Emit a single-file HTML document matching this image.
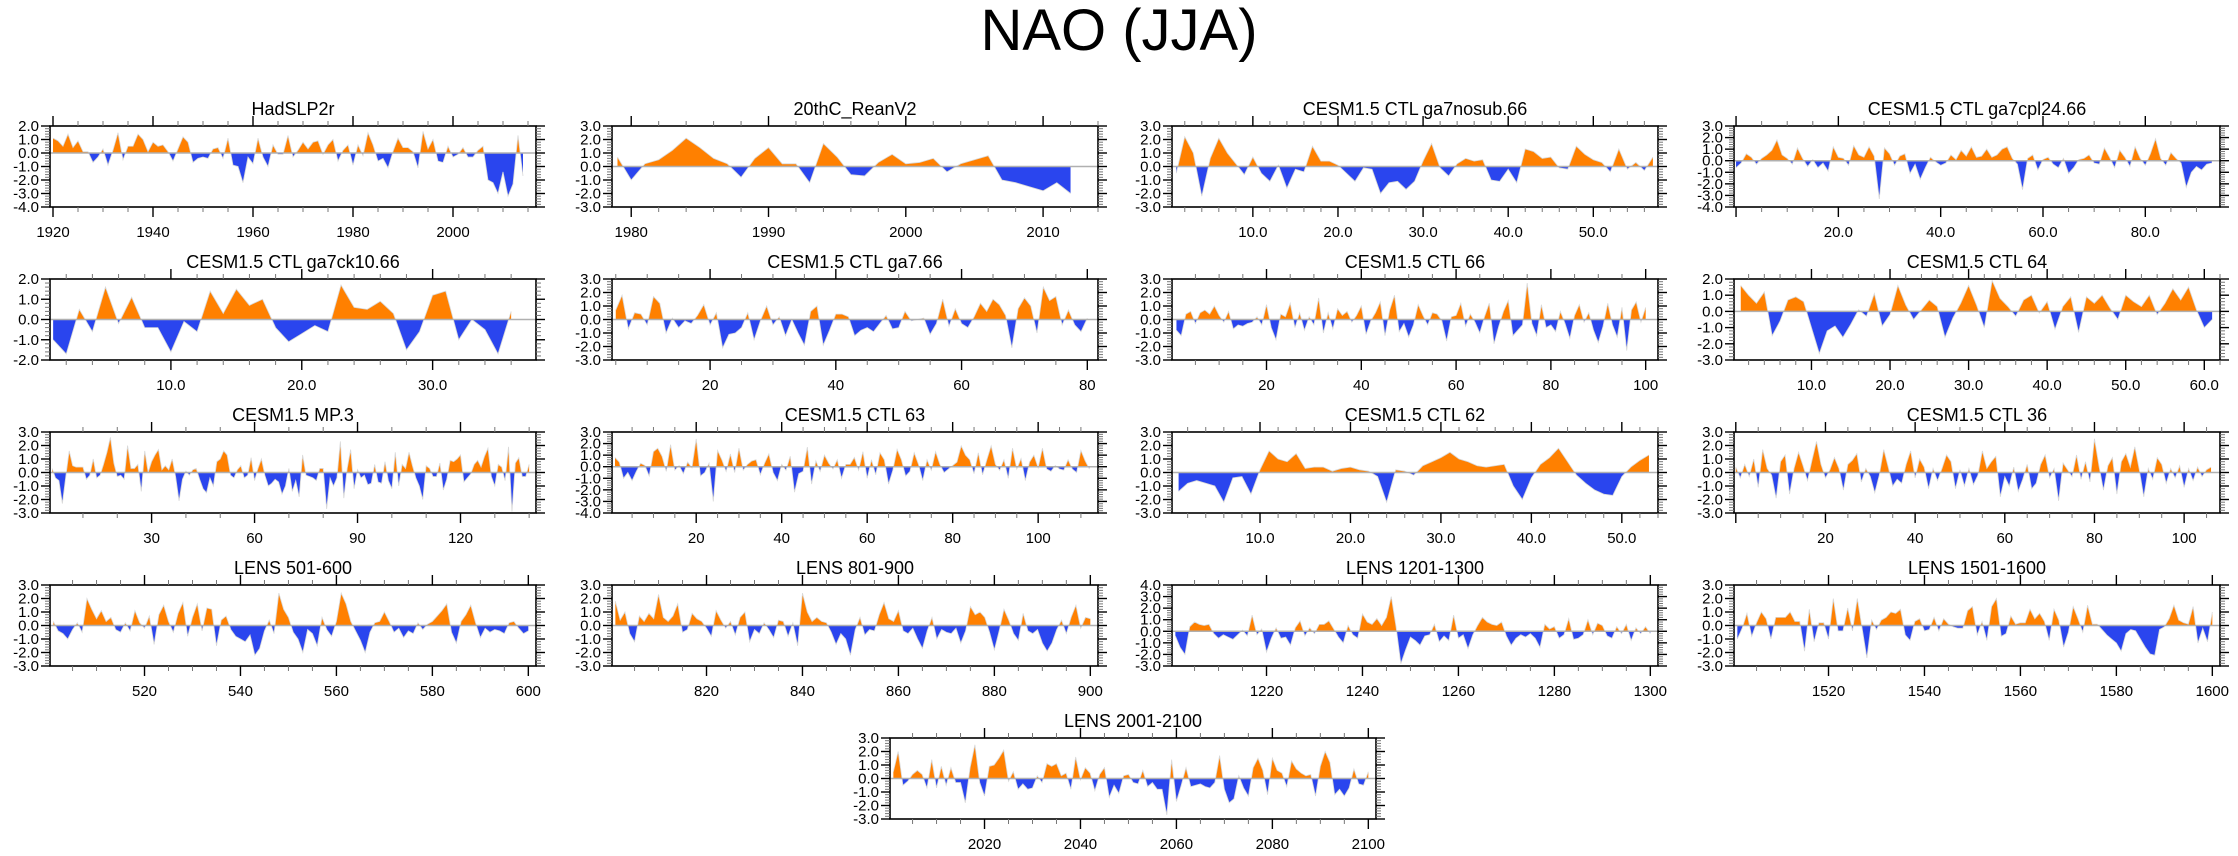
<!DOCTYPE html>
<html><head><meta charset="utf-8"><title>NAO (JJA)</title>
<style>
html,body{margin:0;padding:0;background:#fff;}
svg{display:block;font-family:"Liberation Sans",Arial,sans-serif;}
</style></head>
<body>
<svg id="chart" width="2238" height="856" viewBox="0 0 2238 856" xmlns="http://www.w3.org/2000/svg">
<rect x="0" y="0" width="2238" height="856" fill="#fff"/>
<text x="1119" y="50" font-size="58" text-anchor="middle" fill="#000">NAO (JJA)</text>
</svg>
<script>
// ---- data arrays (NAO index values per panel) ----
const titles = ["HadSLP2r","20thC_ReanV2","CESM1.5 CTL ga7nosub.66","CESM1.5 CTL ga7cpl24.66","CESM1.5 CTL ga7ck10.66","CESM1.5 CTL ga7.66","CESM1.5 CTL 66","CESM1.5 CTL 64","CESM1.5 MP.3","CESM1.5 CTL 63","CESM1.5 CTL 62","CESM1.5 CTL 36","LENS 501-600","LENS 801-900","LENS 1201-1300","LENS 1501-1600","LENS 2001-2100"];
const firstX = [1920,1979,1,0,1,5,1,1,1,1,1,0,501,801,1201,1501,2001];
const xMin = [1919.4,1978.6,0.5,-0.4,0.76,4.4,0.06,0.14,0.4,0.3,0.27,-0.4,500.3,800.3,1200.3,1500.3,2000.3];
const xMax = [2016.6,2014,57.6,94.6,37.9,81.7,102.6,62,142,114,54,108,601.6,901.6,1301.6,1601.6,2101.6];
const yMin = [-4,-3,-3,-4,-2,-3,-3,-3,-3,-4,-3,-3,-3,-3,-3,-3,-3];
const yMax = [2,3,3,3,2,3,3,2,3,3,3,3,3,3,4,3,3];
const xMajor = [20,10,10,20,10,20,20,10,30,20,10,20,20,20,20,20,20];
const xMinor = [5,2,2,5,2,5,5,2,10,5,2,5,5,5,5,5,5];
const xDecimals = [0,0,1,1,1,0,0,1,0,0,1,0,0,0,0,0,0];

const sHad = [1.1,0.9,0.5,1.4,0.4,0.9,0.1,0.1,-0.7,-0.3,0.3,-0.9,0.2,1.5,-0.5,0.5,0.5,1.4,1.0,0.1,0.8,0.5,0.6,0.1,-0.6,0.3,1.2,0.8,-0.7,-0.4,-0.3,-0.4,0.3,0.4,-0.4,1.1,-0.9,-1.0,-2.2,-0.3,-0.8,1.1,-0.3,-1.0,0.6,-0.1,-0.1,1.3,-0.3,0.2,0.8,0.3,0.8,0.9,-0.1,0.6,1.0,-0.6,0.2,0.6,-0.9,0.6,-0.2,1.5,0.6,-0.6,-0.4,-1.1,0.1,1.1,0.4,0.4,0.1,-1.1,1.6,0.3,1.0,-0.6,-0.7,0.5,-0.3,-0.1,0.4,-0.3,-0.3,0.2,0.5,-2.0,-2.2,-3.0,-1.4,-3.2,-2.3,1.3,-1.7];
const s20c = [0.7,-1.0,0.2,0.5,1.2,2.1,1.4,0.6,0.2,-0.8,0.6,1.4,0.2,0.2,-1.2,1.7,0.7,-0.6,-0.7,0.3,0.9,0.2,0.3,0.6,-0.4,0.2,0.5,0.8,-1.0,-1.2,-1.5,-1.8,-1.2,-2.0];
const sNosub = [-0.5,2.2,1.0,-2.2,0.6,2.1,1.0,0.2,-0.6,0.7,-0.5,-1.1,0.1,-1.6,-0.2,-0.4,1.5,0.4,0.4,0.1,-0.5,-1.1,-0.1,-0.2,-2.0,-1.2,-1.1,-1.7,-1.1,0.4,1.7,-0.1,-0.7,0.2,0.6,0.4,0.5,-1.0,-1.1,-0.2,-1.2,1.3,1.1,0.6,0.7,-0.1,-0.2,1.5,0.9,0.5,0.3,-0.4,1.3,-0.2,0.3,-0.3,0.7];
const sCpl24 = [-0.6,-0.2,0.6,0.3,-0.3,0.2,0.5,0.9,1.8,0.5,0.2,-0.3,1.1,0.2,-0.5,0.1,-0.6,-0.2,-0.9,1.2,0.3,0.2,-0.4,1.3,0.5,0.3,1.2,0.4,-3.3,1.1,0.6,-0.4,0.4,0.6,-1.1,-0.3,-1.6,-0.6,0.3,-0.1,-0.4,-0.2,0.5,0.1,0.9,0.4,1.2,0.3,0.4,1.0,0.3,0.5,1.0,1.2,0.2,-0.3,-2.5,0.2,0.5,-0.8,0.1,0.3,-0.3,-0.6,0.2,-1.1,-0.6,0.1,0.2,0.5,-0.2,-0.3,1.1,0.3,-0.6,0.9,0.3,-0.5,1.2,0.2,-0.4,0.6,1.9,0.2,-0.4,0.7,0.2,-0.2,-2.3,-1.0,-0.5,-0.8,-0.3,-0.2];
const sCk10 = [-1.0,-1.7,0.5,-0.6,1.6,-0.2,1.1,-0.4,-0.4,-1.6,-0.1,-0.6,1.4,0.3,1.5,0.7,1.0,-0.4,-1.1,-0.7,-0.3,-0.6,1.7,0.6,0.5,0.9,0.3,-1.5,-0.6,1.2,1.4,-1.0,0.0,-0.5,-1.7,0.4];
const sGa7 = [0.7,1.8,-0.7,0.5,0.4,-0.4,1.7,1.2,-1.0,0.1,-0.6,-0.1,-0.3,0.3,1.1,-0.4,0.5,-2.1,-1.1,-1.0,-0.6,0.5,-1.5,-0.1,1.0,-0.4,0.2,-1.2,0.0,-1.0,-1.9,0.6,1.0,-1.9,-0.8,0.4,0.4,0.2,-1.2,-0.8,-0.6,-0.9,-0.3,0.3,-0.7,-0.6,0.6,-0.1,0.0,0.1,-1.1,-0.3,1.5,-0.5,0.8,-0.3,-0.6,0.2,1.2,0.6,1.5,1.1,0.3,-2.1,0.8,1.6,1.0,-1.0,2.4,1.4,1.7,-0.4,0.7,-0.4,-0.9,0.1];
const s66 = [-0.8,-1.2,0.4,0.6,-0.3,0.5,0.7,0.4,1.0,0.3,-0.2,0.6,-0.7,-0.4,-0.5,-0.3,-0.2,0.2,-0.4,1.1,-0.6,-1.5,0.4,0.2,1.2,-0.6,0.5,-0.8,0.2,-0.4,1.6,-1.0,0.5,-0.7,0.8,0.3,0.6,-0.2,0.3,1.0,-1.1,-0.1,0.5,1.3,-1.2,0.7,1.8,-0.9,-0.3,-1.3,-0.4,1.1,0.3,-0.4,0.5,0.4,-0.1,-1.6,0.2,0.3,1.2,-0.5,0.4,-0.2,-1.0,0.2,1.2,-1.8,-0.5,0.6,1.4,-1.2,-0.8,-0.4,2.7,-0.3,-1.2,1.1,-0.6,-0.4,-0.9,0.6,-0.3,-1.4,0.3,1.1,-0.2,0.5,-0.8,-1.7,-0.5,1.2,-0.4,-1.3,0.9,-2.3,0.7,1.3,-0.2,0.9];
const s64 = [1.6,1.0,0.5,1.2,-1.5,-0.6,0.7,0.9,0.6,-1.0,-2.6,-1.2,-0.9,-1.6,-0.8,0.1,-0.3,1.1,-0.9,-0.2,1.6,0.4,-0.5,0.1,0.7,0.3,-1.6,-0.4,0.5,1.6,0.4,-1.0,1.9,0.8,0.3,-0.3,0.7,1.0,-0.1,0.6,-1.1,0.3,0.9,-1.3,0.9,0.5,1.0,0.2,-0.5,1.0,0.6,0.3,1.0,-0.2,0.5,1.4,0.7,1.5,0.1,-1.0,-0.5];
const sMp3 = [0.3,-0.4,-0.6,-2.3,-0.3,1.6,0.5,0.4,0.4,0.4,-0.5,-0.2,1.0,-0.4,-0.2,0.6,1.5,2.6,0.7,-0.3,-0.2,-0.5,2.0,0.3,0.3,0.6,-1.4,1.6,0.0,0.8,1.3,1.7,0.2,0.5,0.2,1.0,-0.3,-2.1,-0.5,0.1,-0.2,0.2,0.3,-0.5,-1.2,-1.5,-0.4,-1.0,0.8,1.0,1.6,1.3,-0.2,-0.4,0.2,0.5,-0.4,-0.2,1.1,-0.6,0.3,1.0,-0.2,-1.0,-0.8,-0.5,-0.7,-1.6,-1.0,0.3,-1.4,-0.6,-1.8,1.3,-0.2,-0.3,-0.4,-0.6,0.3,0.3,-2.7,-0.4,-1.0,-0.4,2.3,-1.9,0.3,1.7,-1.2,0.2,-0.4,-0.2,-0.9,-0.8,0.6,-0.7,-0.8,0.8,-0.6,-1.2,1.5,-1.0,0.6,0.3,1.5,0.5,-0.4,-1.0,-2.0,0.5,0.3,-0.3,-0.3,0.7,-1.3,-0.5,0.9,0.8,1.0,1.3,-0.7,-0.4,-0.1,0.6,0.9,0.4,1.2,1.8,-0.3,-1.0,0.6,0.4,-0.6,1.9,-2.9,0.7,1.1,-0.3,-0.3,0.6];
const s63 = [0.8,0.4,-1.0,-0.5,-1.2,-0.4,0.3,0.1,-0.8,1.3,1.6,0.9,-0.4,1.9,-0.3,0.1,-0.6,0.4,-0.1,2.4,-0.8,-0.5,0.3,-3.0,1.4,0.6,-0.4,1.1,-0.5,1.6,-0.3,0.2,0.5,0.6,-0.7,0.3,1.1,-0.5,-1.2,0.2,-0.3,0.9,-2.2,-0.6,-0.4,1.7,-1.5,0.5,-0.4,1.0,0.3,-0.2,0.6,-1.0,0.2,0.2,0.8,-0.3,1.3,-1.0,0.6,-0.7,1.2,0.6,-1.5,-0.3,1.5,0.6,-0.8,-0.4,1.2,0.2,-1.2,0.6,-0.3,1.3,0.2,-0.5,-0.2,0.1,0.4,1.8,1.0,0.6,-0.6,1.2,-0.7,0.6,1.8,0.2,-0.3,0.6,-1.0,1.6,-0.2,0.7,-1.2,0.4,1.0,-0.1,1.6,-0.2,-0.4,0.1,-0.2,-0.3,0.6,-0.2,-0.5,1.4,0.5,-0.2];
const s62 = [-1.4,-0.8,-0.6,-0.8,-1.0,-2.2,-0.4,-0.3,-1.6,0.2,1.6,1.0,0.8,1.4,0.3,0.4,0.4,0.1,0.3,0.4,0.2,0.1,-0.3,-2.2,0.2,0.1,-0.2,0.5,0.8,1.1,1.5,1.0,0.8,0.5,0.4,0.5,0.6,-1.0,-2.0,-0.4,0.6,1.1,1.8,0.8,-0.2,-0.8,-1.3,-1.6,-1.7,-0.3,0.4,0.9,1.3];
const s36 = [0.4,-0.4,0.6,-0.3,1.0,-1.1,1.7,0.3,-0.2,-1.9,0.8,1.3,-1.6,0.3,1.5,0.5,-0.6,0.9,2.3,0.6,-0.4,0.2,1.1,0.3,-1.3,0.6,0.9,1.4,-0.7,0.3,-0.3,-1.5,-0.2,1.7,0.4,-1.0,-0.5,-0.8,0.6,1.6,-0.4,1.0,0.4,-1.2,0.3,-0.6,0.3,1.3,0.8,-1.2,0.2,-1.0,0.3,-0.9,-0.2,1.6,0.3,0.8,1.2,-1.8,-0.3,-1.0,0.4,-1.4,-0.5,0.6,-1.2,-0.8,0.6,1.3,-0.4,0.3,-2.1,0.7,0.2,-0.3,1.3,-0.5,0.8,-0.7,2.5,0.5,-1.3,0.5,1.1,-1.6,0.8,1.4,0.4,1.9,0.2,-1.8,0.3,-0.5,1.1,0.6,-0.8,0.3,-0.4,0.5,-1.1,0.3,-0.6,0.4,-0.3,0.2,0.4];
const sL501 = [0.3,-0.4,-0.6,-1.0,-0.3,0.2,-0.5,2.0,1.2,0.5,1.1,0.3,0.6,-0.3,-0.5,0.2,-0.4,1.1,0.2,-0.2,0.7,-1.4,0.8,1.5,0.3,-0.5,0.9,1.7,-0.8,0.6,1.6,-0.4,1.3,1.2,-1.5,0.4,0.7,-0.3,-0.8,-1.0,-1.2,-0.7,-2.2,-1.7,-0.4,0.4,-0.6,2.4,1.2,0.6,-0.5,-1.0,-2.0,-0.3,-0.6,-1.5,0.6,-0.3,-0.8,0.3,2.4,1.6,0.3,-0.4,-1.1,-2.0,-0.5,0.2,0.3,1.0,0.3,-0.5,-0.2,-0.9,-0.4,-0.6,0.2,-0.3,0.1,0.3,0.7,1.1,1.6,-0.5,-1.3,0.3,0.8,1.5,0.2,-0.9,-0.2,-0.5,-0.3,-0.4,-0.6,0.2,0.3,-0.2,-0.6,-0.4];
const sL801 = [1.8,0.4,1.0,-0.6,-1.2,0.7,0.3,0.9,0.5,2.3,0.6,0.3,0.7,1.6,-0.5,-0.3,0.9,0.5,0.3,-0.2,-0.8,1.1,0.4,-0.2,0.3,-0.7,0.6,1.0,-1.2,-0.3,-0.6,0.2,-0.3,-0.9,0.4,0.3,-0.8,0.2,-1.5,2.4,1.0,0.3,0.6,0.3,0.2,-0.5,-1.4,-0.6,-1.0,-2.2,-0.3,0.6,-0.7,-0.3,-0.4,0.8,1.7,0.5,0.3,1.1,-0.4,-0.6,-0.2,-1.0,-1.7,-0.4,0.6,-1.0,-0.3,-0.5,-0.6,-0.2,-1.3,-0.4,1.4,0.8,1.0,0.6,-0.5,-1.8,-0.4,1.2,0.4,-0.6,-1.1,0.9,-0.4,-0.6,-0.3,-1.3,-1.9,-1.3,-0.3,0.4,-0.6,0.6,1.5,-0.2,0.6,0.5];
const sL1201 = [-0.4,-1.4,-2.0,0.4,0.8,0.6,0.5,0.6,-0.2,-0.6,-0.3,-0.5,-0.7,-0.3,0.1,-0.4,1.4,-0.3,0.2,-1.8,-0.6,0.3,-0.6,-0.5,-1.2,0.3,0.9,-0.4,0.3,-0.2,0.6,0.6,0.9,0.2,-0.5,-1.0,0.5,-0.3,-0.6,1.5,0.8,0.6,1.1,0.5,1.2,3.0,0.4,-2.8,-1.6,-0.5,-0.8,-1.2,-0.4,-0.3,0.6,-0.9,-0.4,-0.8,1.4,-0.6,-0.3,-1.5,-0.3,0.5,1.2,0.8,0.6,0.5,0.8,-0.4,-1.2,-0.6,-0.3,-0.5,-0.2,-0.6,-1.4,0.6,0.2,0.4,-0.6,-0.3,1.1,-0.7,-0.6,-0.3,1.0,-0.3,0.7,0.5,-0.4,-0.6,0.4,-0.2,0.6,-0.8,0.3,-0.2,0.4,-0.2];
const sL1501 = [-1.0,-0.2,0.9,-0.8,0.2,1.0,0.5,-1.0,0.6,0.6,0.6,1.0,0.3,0.3,-1.9,1.2,-1.2,0.2,0.2,-1.0,2.0,-0.4,-0.4,1.3,-0.4,2.0,-0.2,-2.4,0.4,-0.3,0.4,0.6,1.0,0.9,1.2,-0.7,-1.1,0.3,0.5,-0.4,-0.3,0.6,-0.4,0.5,0.1,-0.1,-0.2,-0.2,1.1,1.4,-0.7,0.3,-1.1,1.4,2.0,-0.8,-0.6,0.7,0.1,0.2,0.2,1.2,0.5,0.9,0.3,-1.1,1.2,0.4,-1.6,-0.5,1.4,0.5,-0.5,1.5,0.1,0.1,-0.3,-0.7,-1.0,-1.3,-1.9,-0.6,-0.3,-0.4,-1.0,-1.6,-2.1,-2.2,-0.3,-0.1,0.5,1.5,0.4,0.2,0.1,1.4,-1.3,-0.2,-1.2,1.0];
const sL2001 = [0.5,2.0,-0.5,-0.2,0.3,0.6,0.3,-0.7,1.4,-0.7,0.9,-0.5,0.8,-0.3,-0.3,-1.8,0.8,2.5,-0.3,-1.3,0.9,1.0,1.5,2.1,-0.2,0.5,-0.8,-0.4,-0.8,-0.7,0.2,-0.3,1.1,0.9,1.1,0.2,0.4,-0.8,1.6,-0.1,0.8,0.4,-0.9,0.3,0.8,-1.4,-0.5,-1.1,0.2,0.3,-0.3,-0.4,0.6,-0.6,-0.3,-0.8,-0.8,-2.7,1.4,-1.7,-0.5,0.8,-0.6,-0.5,-0.4,-0.6,-0.7,-0.3,1.7,-0.8,-1.8,-1.5,0.2,-0.7,-1.3,0.8,1.5,0.6,-1.2,1.5,0.6,0.4,-0.6,1.3,0.7,0.4,0.2,0.3,-1.3,0.9,2.0,1.2,-1.2,-0.8,-1.3,-0.7,0.7,-0.4,-0.5,0.5];
const series = [sHad,s20c,sNosub,sCpl24,sCk10,sGa7,s66,s64,sMp3,s63,s62,s36,sL501,sL801,sL1201,sL1501,sL2001];

// ---- layout (not data) ----
const colLeft = [50,612,1172,1734];
const rowTop = [126,279,432,585,738];
const PW = 486, PH = 81;
const NS = "http://www.w3.org/2000/svg";
const svg = document.getElementById('chart');
function mk(tag, attrs, parent){
  const e = document.createElementNS(NS, tag);
  for (const k in attrs) e.setAttribute(k, attrs[k]);
  (parent||svg).appendChild(e);
  return e;
}
function slug(s){return s.toLowerCase().replace(/[^a-z0-9]+/g,'-').replace(/^-|-$/g,'');}

titles.forEach((title, p) => {
  const left = p < 16 ? colLeft[p % 4] : 890;
  const top = rowTop[Math.floor(p / 4)];
  const g = mk('g', {});
  
  
  const x0 = xMin[p], x1 = xMax[p], y0 = yMin[p], y1 = yMax[p];
  const xs = v => left + (v - x0) / (x1 - x0) * PW;
  const ys = v => top + (y1 - v) / (y1 - y0) * PH;
  const zeroY = ys(0);
  const data = series[p];

  const cidA = 'ca' + p, cidB = 'cb' + p;
  const defs = mk('defs', {}, g);
  const cpA = mk('clipPath', {id: cidA}, defs);
  mk('rect', {x: left, y: top, width: PW, height: zeroY - top}, cpA);
  const cpB = mk('clipPath', {id: cidB}, defs);
  mk('rect', {x: left, y: zeroY, width: PW, height: top + PH - zeroY}, cpB);

  let pts = [];
  data.forEach((v, i) => {
    const xv = firstX[p] + i;
    if (xv > x1) return;
    pts.push(xs(xv).toFixed(2) + ',' + ys(v).toFixed(2));
  });
  const lastX = Math.min(firstX[p] + data.length - 1, Math.floor(x1));
  const poly = 'M' + xs(firstX[p]).toFixed(2) + ',' + zeroY.toFixed(2) + ' L' + pts.join(' L') + ' L' + xs(lastX).toFixed(2) + ',' + zeroY.toFixed(2) + ' Z';
  const pos = mk('path', {d: poly, fill: '#ff8000', 'clip-path': 'url(#' + cidA + ')'}, g);
  
  
  const neg = mk('path', {d: poly, fill: '#2a45ee', 'clip-path': 'url(#' + cidB + ')'}, g);
  
  
  const ln = mk('path', {d: 'M' + pts.join(' L'), fill: 'none', stroke: '#d8d8d8', 'stroke-width': 0.8}, g);
  
  
  const zl = mk('line', {x1: left, x2: left + PW, y1: zeroY, y2: zeroY, stroke: '#b0b0b0', 'stroke-width': 1.5}, g);
  
  

  const fr = mk('rect', {x: left, y: top, width: PW, height: PH, fill: 'none', stroke: '#000', 'stroke-width': 1.6}, g);
  
  

  const yAx = mk('g', {}, g);
  
  
  const nMinor = Math.round((y1 - y0) / 0.2);
  for (let k = 0; k <= nMinor; k++) {
    const v = y0 + k * 0.2;
    const isMaj = Math.abs(v - Math.round(v)) < 1e-6;
    const y = ys(v), L = isMaj ? 9 : 5;
    mk('line', {x1: left - L, x2: left, y1: y, y2: y, stroke: isMaj ? '#000' : '#777', 'stroke-width': isMaj ? 1.4 : 1}, yAx);
    mk('line', {x1: left + PW, x2: left + PW + L, y1: y, y2: y, stroke: isMaj ? '#000' : '#777', 'stroke-width': isMaj ? 1.4 : 1}, yAx);
    if (isMaj) {
      const t = mk('text', {x: left - 11, y: y + 5, 'font-size': 15, 'text-anchor': 'end', fill: '#000'}, yAx);
      t.textContent = Math.round(v).toFixed(1);
      
      
    }
  }
  const xAx = mk('g', {}, g);
  
  
  const mn = xMinor[p], mj = xMajor[p];
  for (let v = Math.ceil(x0 / mn) * mn; v <= x1; v += mn) {
    const isMaj = Math.abs(v / mj - Math.round(v / mj)) < 1e-6;
    const x = xs(v), L = isMaj ? 10 : 5;
    mk('line', {x1: x, x2: x, y1: top + PH, y2: top + PH + L, stroke: isMaj ? '#000' : '#777', 'stroke-width': isMaj ? 1.4 : 1}, xAx);
    mk('line', {x1: x, x2: x, y1: top - L, y2: top, stroke: isMaj ? '#000' : '#777', 'stroke-width': isMaj ? 1.4 : 1}, xAx);
    if (isMaj && v > 0) {
      const t = mk('text', {x: x, y: top + PH + 30, 'font-size': 15, 'text-anchor': 'middle', fill: '#000'}, xAx);
      t.textContent = v.toFixed(xDecimals[p]);
      
      
    }
  }
  const tt = mk('text', {x: left + PW / 2, y: top - 11, 'font-size': 18, 'text-anchor': 'middle', fill: '#000'}, g);
  tt.textContent = title;
  
  
});
</script>
</body></html>
